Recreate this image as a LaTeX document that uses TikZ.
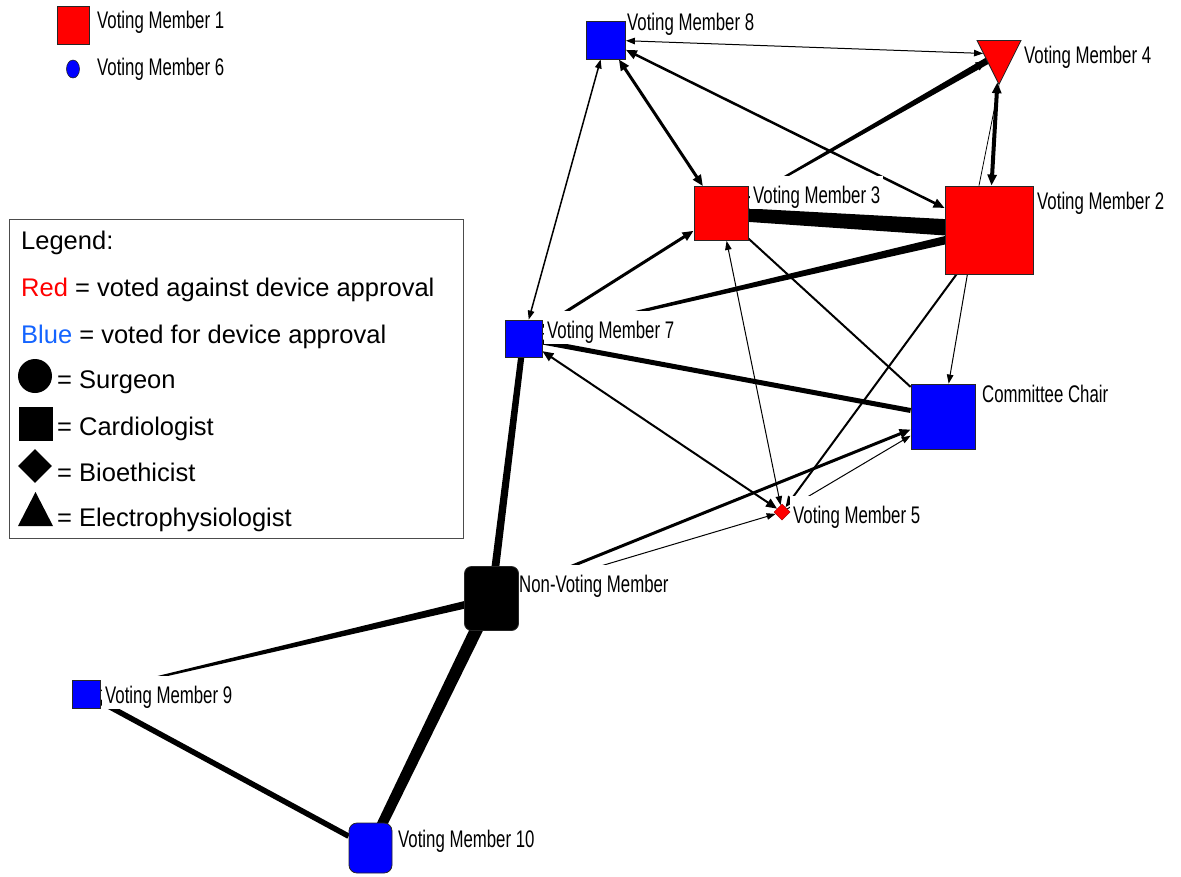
\documentclass[tikz,border=0pt]{standalone}
\usepackage{fontspec}
\setmainfont{Liberation Sans}
\newfontfamily\labfont[FakeStretch=0.7]{Liberation Sans}
\usetikzlibrary{shapes.geometric,arrows.meta,calc}
\pgfdeclarelayer{edges}
\pgfdeclarelayer{labels}
\pgfsetlayers{edges,labels,main}
\definecolor{nred}{RGB}{255,0,0}
\definecolor{nblue}{RGB}{0,0,255}
\definecolor{lblue}{RGB}{20,100,255}
\newcommand{\taper}[4]{\fill ($(#1)!#3!90:(#2)$) -- ($(#2)!#4!-90:(#1)$) -- ($(#2)!#4!90:(#1)$) -- ($(#1)!#3!-90:(#2)$) -- cycle;}
\tikzset{
  sq/.style={rectangle, draw=black!85, line width=0.8pt, inner sep=0pt},
  lbl/.style={font=\labfont\fontsize{24}{28}\selectfont, fill=white, anchor=base west, inner xsep=3pt, inner ysep=0pt, text height=27pt, text depth=6pt},
  leg/.style={anchor=base west, inner sep=0pt, font=\fontsize{25.5}{30}\selectfont},
  ea/.style={line width=1pt},
  eb/.style={line width=2pt},
  ec/.style={line width=3pt},
  bigtip/.style={>={Triangle[length=11pt,width=9pt]}},
}
\begin{document}
\begin{tikzpicture}[x=1pt,y=-1pt,>={Triangle[length=9pt,width=6.5pt]}]
\useasboundingbox (0,0) rectangle (1181,876);
% nodes
\node[sq, fill=nred, minimum width=32pt, minimum height=38pt] (vm1) at (73,25) {};
\node[ellipse, draw=black!85, line width=0.6pt, fill=nblue, minimum width=13pt, minimum height=18pt, inner sep=0pt] (vm6) at (73,69) {};
\node[sq, fill=nblue, minimum width=39pt, minimum height=38pt] (vm8) at (606,40) {};
\node[isosceles triangle, isosceles triangle stretches, shape border rotate=-90, draw=black!85, line width=0.8pt, fill=nred, minimum width=44pt, minimum height=44pt, inner sep=0pt] (vm4) at (999,54) {};
\node[sq, fill=nred, minimum size=54pt] (vm3) at (721,213.5) {};
\node[sq, fill=nred, minimum size=88pt] (vm2) at (989,230) {};
\node[sq, fill=nblue, minimum size=37pt] (vm7) at (523.5,338.5) {};
\node[sq, fill=nblue, minimum width=64pt, minimum height=65pt] (chair) at (943,416.5) {};
\node[diamond, fill=nred, draw=nred!70!black, line width=0.5pt, minimum size=16pt, inner sep=0pt] (vm5) at (782,512) {};
\node[sq, fill=black, rounded corners=7pt, minimum width=54pt, minimum height=64pt] (nvm) at (491.5,598.5) {};
\node[sq, fill=nblue, minimum size=28pt] (vm9) at (86,694) {};
\node[sq, fill=nblue, rounded corners=8pt, minimum width=43pt, minimum height=50pt] (vm10) at (370.5,848) {};
% labels
\begin{pgfonlayer}{labels}
\node[lbl] (l1) at (94,28) {Voting Member 1};
\node[lbl] (l6) at (94,75) {Voting Member 6};
\node[lbl] (l8) at (624,30) {Voting Member 8};
\node[lbl] (l4) at (1021,63) {Voting Member 4};
\node[lbl] (l3) at (750,203) {Voting Member 3};
\node[lbl] (l2) at (1034,209) {Voting Member 2};
\node[lbl] (l7) at (544,338) {Voting Member 7};
\node[lbl] (lc) at (979,402) {Committee Chair};
\node[lbl] (l5) at (790,523) {Voting Member 5};
\node[lbl] (ln) at (516,592) {Non-Voting Member};
\node[lbl] (l9) at (102,703) {Voting Member 9};
\node[lbl] (l10) at (395,847) {Voting Member 10};
\end{pgfonlayer}
% edges
\begin{pgfonlayer}{edges}
\draw[ea,<->] (vm8) -- (vm4);
\draw[ec,<->,bigtip] (vm8) -- (vm3);
\draw[line width=1.5pt,<->] (vm8) -- (vm7);
\draw[line width=2.5pt,<->,bigtip] (vm8) -- (vm2);
\taper{vm3}{vm4}{0.5pt}{3.5pt}
\draw[ea,->,bigtip] ($(vm3)!0.8!(vm4)$) -- (vm4);
\draw[line width=4pt,<->,bigtip] (vm2) -- (vm4);
\draw[line width=0.8pt] ([xshift=-10pt]vm2.north) -- (vm4.apex);
\taper{vm3}{vm2}{6.5pt}{8.5pt}
\draw[ec,->,bigtip] (vm7) -- (vm3);
\taper{vm7}{vm2}{0.5pt}{4.5pt}
\draw[eb] (vm3) -- (chair);
\draw[ea,->] ([xshift=-14pt]vm2.center) -- (chair);
\draw[eb,->,bigtip] (vm2) -- (vm5);
\draw[ea,<->] (vm5) -- (vm3);
\draw[line width=5pt] (vm7) -- (chair);
\draw[eb,<->,bigtip] (vm7) -- (vm5);
\draw[ec,->,bigtip] (nvm) -- (chair);
\draw[ea,->] (nvm) -- (vm5);
\draw[ea,->] (vm5) -- (chair);
\taper{nvm}{vm7}{4pt}{3pt}
\taper{vm9}{nvm}{0.5pt}{4pt}
\taper{vm10}{nvm}{5pt}{6.5pt}
\draw[line width=5.5pt] (vm9) -- (vm10);
\end{pgfonlayer}
% legend
\node[draw=black!70, line width=0.8pt, anchor=north west, minimum width=454pt, minimum height=319pt, inner sep=0pt] (legend) at (9,219) {};
\node[leg] (lg0) at (21,249) {Legend:};
\node[leg] (lg1) at (21,296) {\textcolor{nred}{Red} = voted against device approval};
\node[leg] (lg2) at (21,343) {\textcolor{lblue}{Blue} = voted for device approval};
\node[circle, fill=black, minimum size=34pt, inner sep=0pt] (sym1) at (35,376) {};
\node[leg] (lg3) at (57,388) {= Surgeon};
\node[rectangle, fill=black, minimum size=34pt, inner sep=0pt] (sym2) at (35.5,424) {};
\node[leg] (lg4) at (57,435) {= Cardiologist};
\node[diamond, fill=black, minimum size=34pt, inner sep=0pt] (sym3) at (35,466) {};
\node[leg] (lg5) at (57,481) {= Bioethicist};
\fill (18,526) -- (35.5,492) -- (53,526) -- cycle;
\node[leg] (lg6) at (57,526) {= Electrophysiologist};
\end{tikzpicture}
\end{document}
